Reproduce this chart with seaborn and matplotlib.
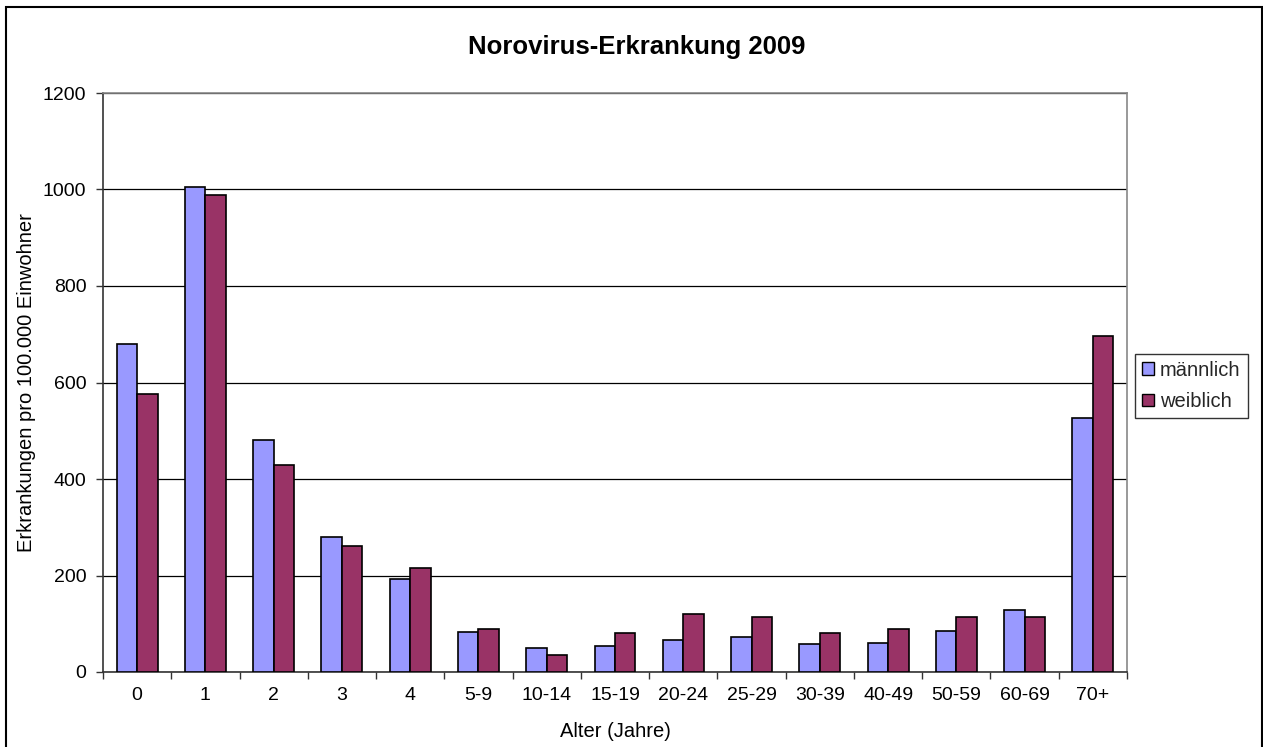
import matplotlib
matplotlib.use("Agg")
import matplotlib.pyplot as plt
import seaborn as sns
import pandas as pd
import numpy as np
from matplotlib.patches import Rectangle
from matplotlib.ticker import FixedLocator

categories = ["0", "1", "2", "3", "4", "5-9", "10-14", "15-19", "20-24", "25-29",
              "30-39", "40-49", "50-59", "60-69", "70+"]
maennlich = [680, 1005, 481, 279, 192, 82, 50, 53, 67, 73, 59, 60, 86, 129, 526]
weiblich = [576, 989, 428, 262, 216, 89, 36, 80, 120, 113, 80, 89, 113, 113, 697]
series_names = ["männlich", "weiblich"]
colors = ["#9999FF", "#993366"]

df = pd.DataFrame({
    "Alter": categories * 2,
    "Wert": maennlich + weiblich,
    "Geschlecht": [series_names[0]] * len(categories) + [series_names[1]] * len(categories),
})

sns.set_theme(style="white")
plt.rcParams["font.family"] = ["Liberation Sans", "DejaVu Sans"]

W, H = 1263, 747
fig = plt.figure(figsize=(W / 100, H / 100), dpi=100)
ax = fig.add_axes([103 / W, (H - 672) / H, 1024 / W, 579 / H])

sns.barplot(data=df, x="Alter", y="Wert", hue="Geschlecht", order=categories,
            hue_order=series_names, palette=colors, width=0.6, saturation=1,
            edgecolor="black", linewidth=1.2, ax=ax, legend=True, zorder=3)

ax.set_ylim(0, 1200)
ax.set_xlim(-0.5, len(categories) - 0.5)
ax.set_yticks(np.arange(0, 1201, 200))
ax.yaxis.grid(True, color="black", linewidth=0.9, zorder=0)
ax.xaxis.grid(False)
ax.set_axisbelow(True)

# tick marks at category boundaries
ax.xaxis.set_minor_locator(FixedLocator(np.arange(-0.5, len(categories), 1.0)))
ax.tick_params(axis="x", which="major", length=0, pad=11, labelsize=14, colors="black")
ax.tick_params(axis="x", which="minor", length=5, width=1, color="#333333", bottom=True)
ax.tick_params(axis="y", which="major", length=5, width=1, color="#333333", left=True,
               pad=7, labelsize=14, labelcolor="black")

for side in ["left", "bottom"]:
    ax.spines[side].set_color("#333333")
    ax.spines[side].set_linewidth(1.2)
for side in ["top", "right"]:
    ax.spines[side].set_color("#888888")
    ax.spines[side].set_linewidth(1.2)

ax.set_xlabel("Alter (Jahre)", fontsize=14.5, color="black", labelpad=13)
ax.set_ylabel("Erkrankungen pro 100.000 Einwohner", fontsize=14.5, color="black", labelpad=5)

fig.text(637 / W, 1 - 47 / H, "Norovirus-Erkrankung 2009", ha="center", va="center",
         fontsize=18.5, fontweight="bold", color="black")

leg = ax.get_legend()
handles = leg.legend_handles
leg.remove()
leg = fig.legend(handles, series_names, loc="center left",
                 bbox_to_anchor=(1135 / W, 1 - 386 / H), frameon=True, fancybox=False,
                 fontsize=14.5, handlelength=0.6, handleheight=0.6, handletextpad=0.3,
                 borderpad=0.35, labelspacing=0.6, borderaxespad=0)
leg.get_frame().set_edgecolor("black")
leg.get_frame().set_linewidth(1.0)
for h in leg.legend_handles:
    h.set_edgecolor("black")
    h.set_linewidth(1.0)

fig.patches.append(Rectangle((6 / W, -0.01), (W - 7) / W, 1 - 7 / H + 0.01,
                             transform=fig.transFigure, fill=False,
                             edgecolor="black", linewidth=1.5))

fig.savefig("out.png", dpi=100)
